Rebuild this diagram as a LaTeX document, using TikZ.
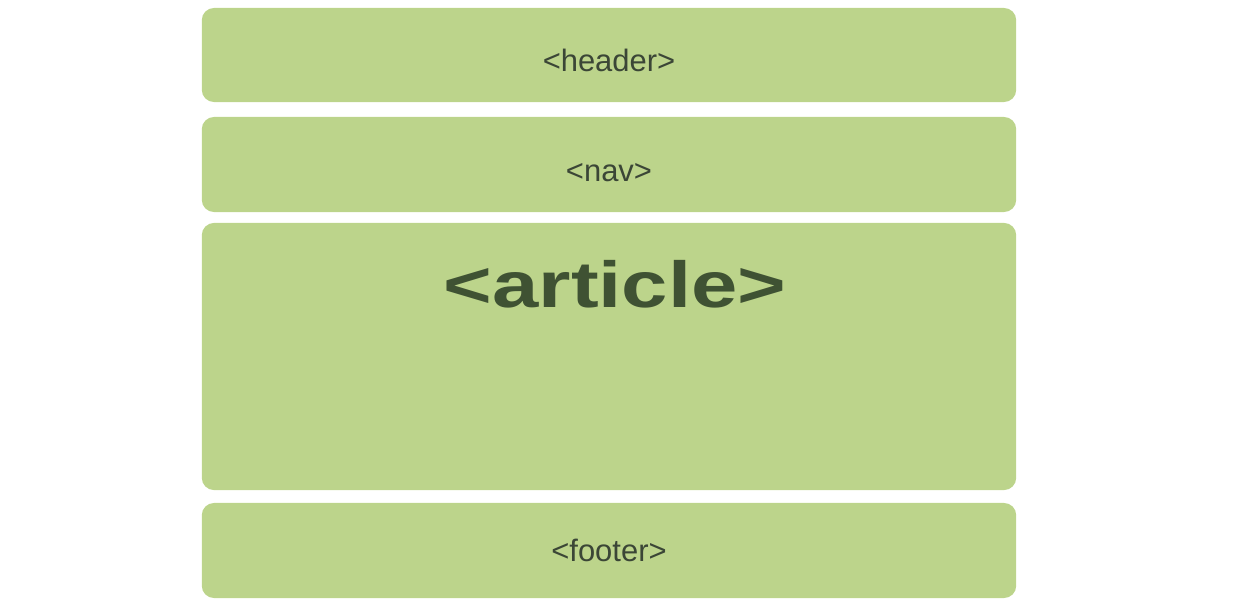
\documentclass[tikz,border=0pt]{standalone}
\usepackage{fontspec}
\setmainfont{Liberation Sans}
\usetikzlibrary{positioning}
\definecolor{vert}{HTML}{BCD48B}
\definecolor{texte}{HTML}{3B4636}
\definecolor{texteart}{HTML}{3F5233}
\tikzstyle{bloc} = [fill=vert,draw=none,rounded corners=3.5pt,minimum width=8.14cm,inner sep=0pt]
\tikzstyle{balise} = [text=texte,anchor=base,inner sep=0pt,font=\fontsize{8.8}{10}\selectfont]

\begin{document}
\begin{tikzpicture}[x=0.01cm,y=-0.01cm]
	\useasboundingbox (0,0) rectangle (1233,615);

%% Les blocs
	\node[bloc,minimum height=0.94cm] (header) at (609,55) {};
	\node[bloc,minimum height=0.95cm] (nav) at (609,164.5) {};
	\node[bloc,minimum height=2.67cm] (article) at (609,356.5) {};
	\node[bloc,minimum height=0.95cm] (footer) at (609,550.5) {};

%% Les balises
	\node[balise] (header_t) at (609,71) {<header>};
	\node[balise] (nav_t) at (609,181) {<nav>};
	\node[balise,text=texteart,font=\bfseries\fontsize{18.5}{20}\selectfont,xscale=1.28] (article_t) at (615,307) {<article>};
	\node[balise] (footer_t) at (609,561) {<footer>};

\end{tikzpicture}
\end{document}
